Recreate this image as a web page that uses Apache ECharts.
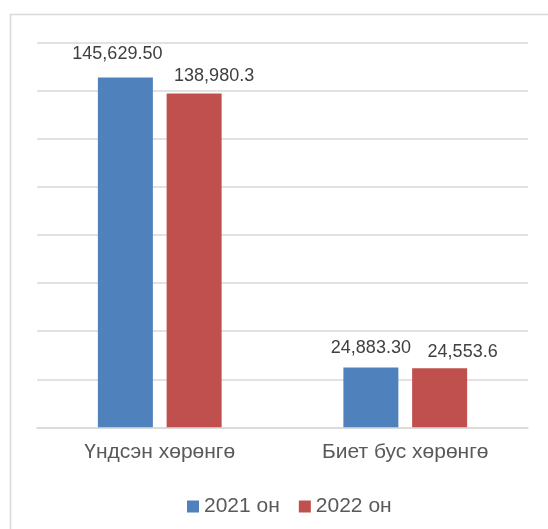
<!DOCTYPE html>
<html>
<head>
<meta charset="utf-8">
<script src="https://cdn.jsdelivr.net/npm/echarts@6/dist/echarts.min.js"></script>
<style>
html,body{margin:0;padding:0;background:#fff;}
#c{width:548px;height:529px;}
</style>
</head>
<body>
<div id="c"></div>
<script>
var categories = ['Үндсэн хөрөнгө', 'Биет бус хөрөнгө'];
var seriesNames = ['2021 он', '2022 он'];
var values2021 = [145629.50, 24883.30];
var values2022 = [138980.3, 24553.6];
var labels2021 = ['145,629.50', '24,883.30'];
var labels2022 = ['138,980.3', '24,553.6'];
var labelOffsets2021 = [[-8, 0], [0, 0]];
var labelDist2021 = [14, 11];
var labelDist2022 = [8, 7];
var labelOffsets2022 = [[20, 0], [23, 0]];

var FONT = 'Liberation Sans, Arial, sans-serif';
function mk(vals, labs, offs, dists) {
  return vals.map(function (v, i) {
    return {
      value: v,
      label: { formatter: labs[i], offset: offs[i], distance: dists[i] }
    };
  });
}
var chart = echarts.init(document.getElementById('c'));
chart.setOption({
  animation: false,
  backgroundColor: '#fff',
  graphic: [{
    type: 'rect',
    shape: { x: 10.5, y: 14.5, width: 700, height: 700 },
    style: { fill: 'none', stroke: '#d9d9d9', lineWidth: 1.5 },
    silent: true
  }],
  grid: { left: 37, right: 20, top: 43, bottom: 101.7, containLabel: false },
  legend: {
    data: seriesNames,
    left: 182,
    top: 491,
    icon: 'rect',
    itemWidth: 12,
    itemHeight: 12,
    itemGap: 19,
    textStyle: { fontFamily: FONT, fontSize: 21, color: '#595959' }
  },
  xAxis: {
    type: 'category',
    data: categories,
    axisTick: { show: false },
    axisLine: { lineStyle: { color: '#d9d9d9', width: 1.5 } },
    axisLabel: { fontFamily: FONT, fontSize: 21, color: '#595959', margin: 14 }
  },
  yAxis: {
    type: 'value',
    min: 0,
    max: 160000,
    interval: 20000,
    axisLabel: { show: false },
    axisLine: { show: false },
    axisTick: { show: false },
    splitLine: { lineStyle: { color: '#d9d9d9', width: 1.5 } }
  },
  series: [{
    name: seriesNames[0],
    type: 'bar',
    barWidth: 55,
    barGap: '25%',
    itemStyle: { color: '#4F81BD' },
    label: { show: true, position: 'top', fontFamily: FONT, fontSize: 18, color: '#404040' },
    data: mk(values2021, labels2021, labelOffsets2021, labelDist2021)
  }, {
    name: seriesNames[1],
    type: 'bar',
    barWidth: 55,
    barGap: '25%',
    itemStyle: { color: '#C0504D' },
    label: { show: true, position: 'top', fontFamily: FONT, fontSize: 18, color: '#404040' },
    data: mk(values2022, labels2022, labelOffsets2022, labelDist2022)
  }]
});
</script>
</body>
</html>
